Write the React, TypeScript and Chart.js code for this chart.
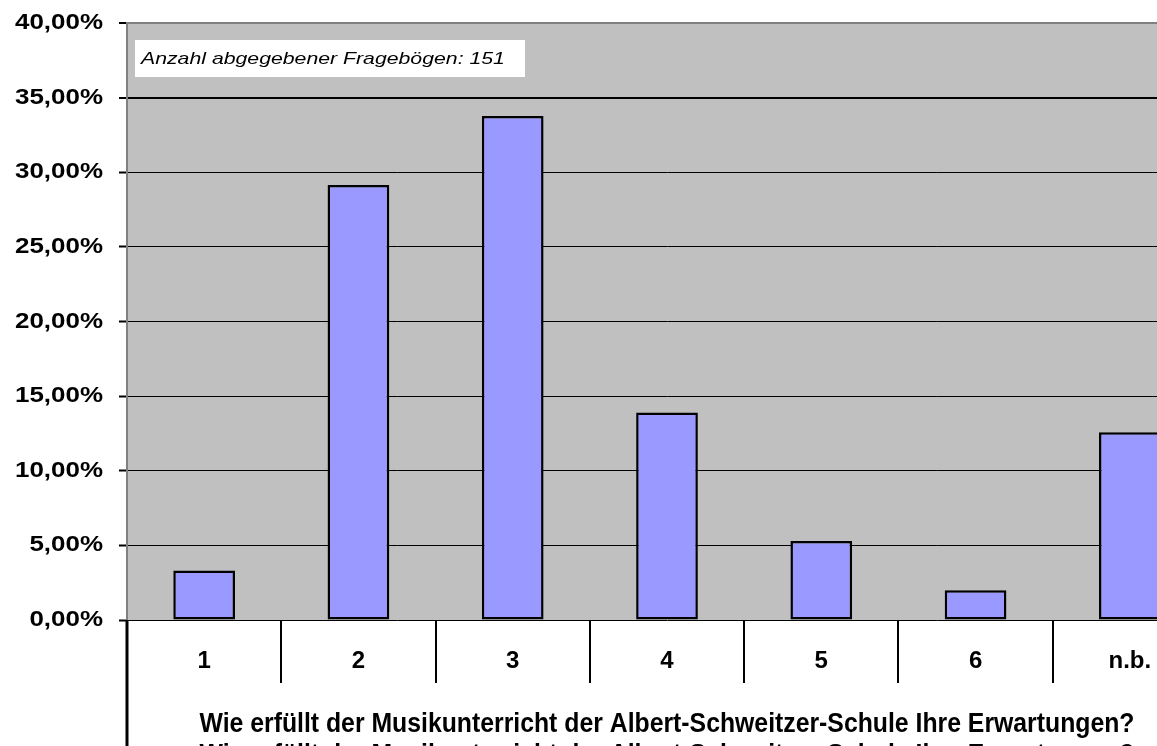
import React, { useEffect, useRef } from 'react';
import { Chart, registerables } from 'chart.js';

Chart.register(...registerables);

const categories = ['1', '2', '3', '4', '5', '6', 'n.b.'];
const shares = [3.31, 29.14, 33.77, 13.91, 5.3, 1.99, 12.58];
const yTickValues = [0, 5, 10, 15, 20, 25, 30, 35, 40];
const yTickLabels = ['0,00%', '5,00%', '10,00%', '15,00%', '20,00%', '25,00%', '30,00%', '35,00%', '40,00%'];
const axisTitle = 'Wie erfüllt der Musikunterricht der Albert-Schweitzer-Schule Ihre Erwartungen?';
const noteText = 'Anzahl abgegebener Fragebögen: 151';

const FONT = '"Liberation Sans", Arial, sans-serif';

const decor = {
  id: 'decor',
  beforeDraw(chart: any) {
    const { ctx, chartArea: a } = chart;
    ctx.save();
    ctx.fillStyle = '#ffffff';
    ctx.fillRect(0, 0, chart.width, chart.height);
    ctx.fillStyle = '#C0C0C0';
    ctx.fillRect(a.left, a.top, a.right - a.left, a.bottom - a.top);
    ctx.restore();
  },
  afterDraw(chart: any) {
    const { ctx, chartArea: a } = chart;
    const x = chart.scales.x;
    const y = chart.scales.y;
    ctx.save();
    // category separators
    ctx.strokeStyle = '#000';
    ctx.lineWidth = 2;
    for (let i = 0; i < categories.length - 1; i++) {
      const px = Math.round((x.getPixelForValue(i) + x.getPixelForValue(i + 1)) / 2);
      ctx.beginPath();
      ctx.moveTo(px, a.bottom);
      ctx.lineTo(px, a.bottom + 63);
      ctx.stroke();
    }
    // left axis extension
    ctx.lineWidth = 3;
    ctx.beginPath();
    ctx.moveTo(a.left, a.bottom);
    ctx.lineTo(a.left, chart.height);
    ctx.stroke();
    // y tick labels
    ctx.fillStyle = '#000';
    ctx.font = `bold 22px ${FONT}`;
    ctx.textAlign = 'right';
    ctx.textBaseline = 'middle';
    yTickValues.forEach((v, i) => {
      ctx.save();
      ctx.translate(a.left - 24, y.getPixelForValue(v));
      ctx.scale(1.18, 1);
      ctx.fillText(yTickLabels[i], 0, 0);
      ctx.restore();
    });
    // category labels
    ctx.font = `bold 24px ${FONT}`;
    ctx.textAlign = 'center';
    categories.forEach((c, i) => {
      ctx.fillText(c, x.getPixelForValue(i), a.bottom + 41);
    });
    // axis title (with the clipped duplicate)
    const cx = (a.left + a.right) / 2;
    ctx.font = `bold 27px ${FONT}`;
    ctx.textBaseline = 'alphabetic';
    const w = ctx.measureText(axisTitle).width;
    const sx = 935 / w;
    [732, 763].forEach((by) => {
      ctx.save();
      ctx.translate(cx, by);
      ctx.scale(sx, 1);
      ctx.fillText(axisTitle, 0, 0);
      ctx.restore();
    });
    // note box
    ctx.fillStyle = '#ffffff';
    ctx.fillRect(a.left + 8, a.top + 17, 390, 37);
    ctx.fillStyle = '#000';
    ctx.font = `italic 17px ${FONT}`;
    ctx.textAlign = 'left';
    ctx.textBaseline = 'middle';
    ctx.save();
    ctx.translate(a.left + 14, a.top + 36);
    ctx.scale(1.25, 1);
    ctx.fillText(noteText, 0, 0);
    ctx.restore();
    ctx.restore();
  },
};

export default function App() {
  const ref = useRef<HTMLCanvasElement | null>(null);
  useEffect(() => {
    if (!ref.current) return;
    const chart = new Chart(ref.current, {
      type: 'bar',
      data: {
        labels: categories,
        datasets: [
          {
            data: shares,
            backgroundColor: '#9999FF',
            borderColor: '#000000',
            borderWidth: 2.5,
            borderSkipped: false,
            barPercentage: 0.4,
            categoryPercentage: 1,
          },
        ],
      },
      options: {
        responsive: false,
        animation: false,
        layout: { padding: { top: 23, right: 5, left: 0, bottom: 0 } },
        plugins: { legend: { display: false }, tooltip: { enabled: false } },
        scales: {
          x: {
            ticks: { display: false },
            grid: { display: false },
            border: { display: false },
            afterFit(scale: any) {
              scale.height = 126;
            },
          },
          y: {
            min: 0,
            max: 40,
            ticks: { display: false, stepSize: 5 },
            grid: {
              color: (c: any) => (c.tick && c.tick.value === 40 ? '#808080' : '#000000'),
              lineWidth: (c: any) => (c.tick && (c.tick.value === 40 || c.tick.value === 35) ? 2 : 1),
              tickLength: 8,
              tickColor: '#000000',
              tickWidth: 2,
            },
            border: { color: '#808080', width: 2 },
            afterFit(scale: any) {
              scale.width = 127;
            },
          },
        },
      },
      plugins: [decor],
    });
    return () => chart.destroy();
  }, []);
  return (
    <div style={{ position: 'fixed', left: 0, top: 0 }}>
      <canvas ref={ref} width={1212} height={746} />
    </div>
  );
}
